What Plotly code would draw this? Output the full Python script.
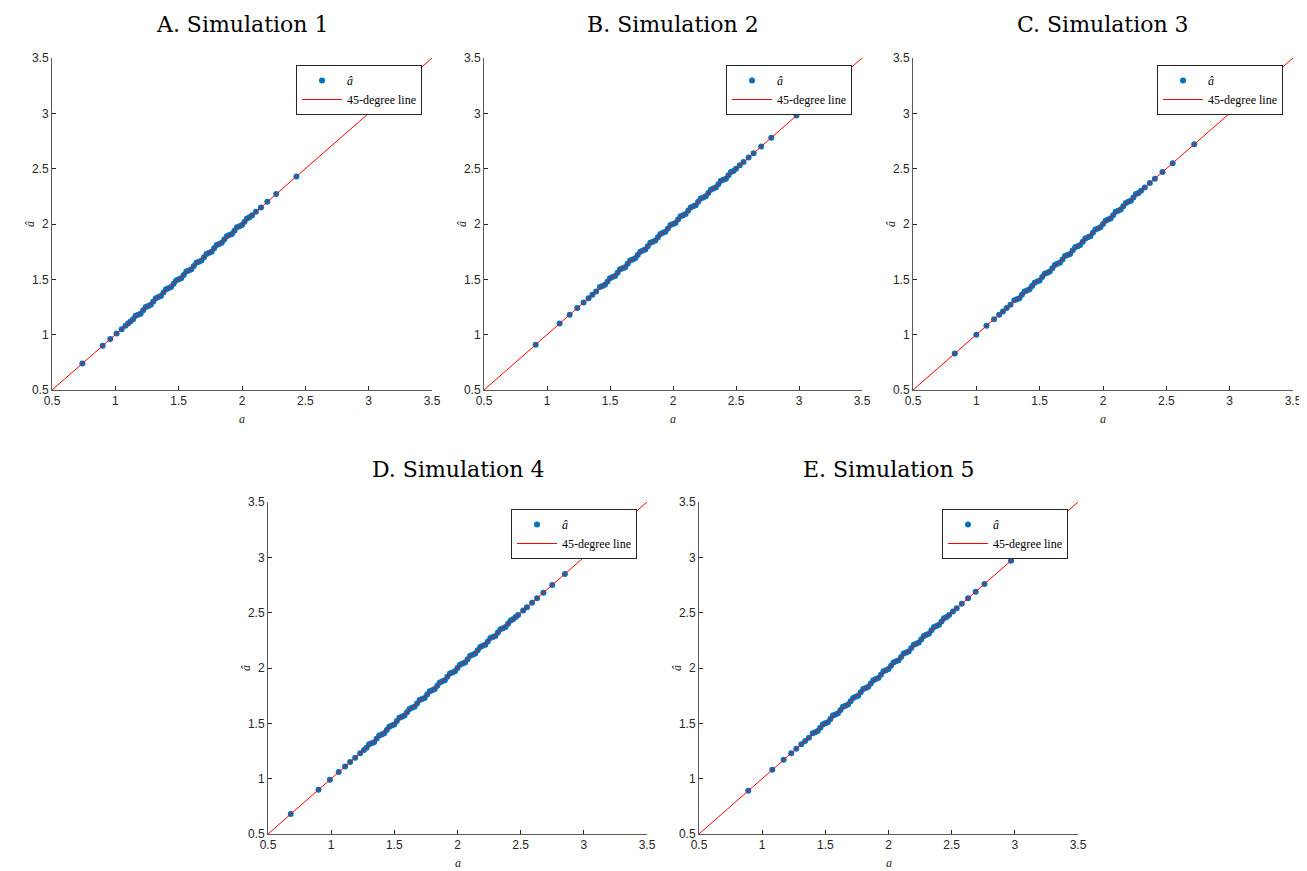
import plotly.graph_objects as go

# ---------------- data ----------------
titles = ["A. Simulation 1", "B. Simulation 2", "C. Simulation 3", "D. Simulation 4", "E. Simulation 5"]

a_1 = [0.74, 0.90, 0.96, 1.01, 1.05, 1.08, 1.10, 1.12, 1.14,
       1.16, 1.18, 1.20, 1.22, 1.24, 1.26, 1.28, 1.30, 1.32, 1.34, 1.36, 1.38, 1.40, 1.42, 1.44,
       1.46, 1.48, 1.50, 1.52, 1.54, 1.56, 1.58, 1.60, 1.62, 1.64, 1.66, 1.68, 1.70, 1.72, 1.74,
       1.76, 1.78, 1.80, 1.82, 1.84, 1.86, 1.88, 1.90, 1.92, 1.94, 1.96, 1.98, 2.00, 2.02, 2.04,
       2.06, 2.08, 2.11, 2.15, 2.20, 2.27, 2.43]
a_hat_1 = [0.74, 0.90, 0.96, 1.01, 1.05, 1.08, 1.10, 1.12, 1.14,
           1.17, 1.18, 1.19, 1.22, 1.25, 1.26, 1.27, 1.30, 1.33, 1.34, 1.35, 1.38, 1.41, 1.42, 1.43,
           1.46, 1.49, 1.50, 1.51, 1.54, 1.57, 1.58, 1.59, 1.62, 1.65, 1.66, 1.67, 1.70, 1.73, 1.74,
           1.75, 1.78, 1.81, 1.82, 1.83, 1.86, 1.89, 1.90, 1.91, 1.94, 1.97, 1.98, 1.99, 2.02, 2.05,
           2.06, 2.08, 2.11, 2.15, 2.20, 2.27, 2.43]

a_2 = [0.91, 1.10, 1.18, 1.24, 1.29, 1.33, 1.36, 1.39,
       1.42, 1.44, 1.46, 1.48, 1.50, 1.52, 1.54, 1.56, 1.58, 1.60, 1.62, 1.64, 1.66, 1.68, 1.70,
       1.72, 1.74, 1.76, 1.78, 1.80, 1.82, 1.84, 1.86, 1.88, 1.90, 1.92, 1.94, 1.96, 1.98, 2.00,
       2.02, 2.04, 2.06, 2.08, 2.10, 2.12, 2.14, 2.16, 2.18, 2.20, 2.22, 2.24, 2.26, 2.28, 2.30,
       2.32, 2.34, 2.36, 2.38, 2.40, 2.42, 2.44, 2.46,
       2.48, 2.50, 2.53, 2.56, 2.60, 2.64, 2.70, 2.78, 2.98]
a_hat_2 = [0.91, 1.10, 1.18, 1.24, 1.29, 1.33, 1.36, 1.39,
           1.43, 1.44, 1.45, 1.48, 1.51, 1.52, 1.53, 1.56, 1.59, 1.60, 1.61, 1.64, 1.67, 1.68, 1.69,
           1.72, 1.75, 1.76, 1.77, 1.80, 1.83, 1.84, 1.85, 1.88, 1.91, 1.92, 1.93, 1.96, 1.99, 2.00,
           2.01, 2.04, 2.07, 2.08, 2.09, 2.12, 2.15, 2.16, 2.17, 2.20, 2.23, 2.24, 2.25, 2.28, 2.31,
           2.32, 2.33, 2.36, 2.39, 2.40, 2.41, 2.44, 2.47,
           2.48, 2.50, 2.53, 2.56, 2.60, 2.64, 2.70, 2.78, 2.98]

a_3 = [0.83, 1.00, 1.08, 1.14, 1.18, 1.21, 1.24, 1.27,
       1.30, 1.32, 1.34, 1.36, 1.38, 1.40, 1.42, 1.44, 1.46, 1.48, 1.50, 1.52, 1.54, 1.56, 1.58,
       1.60, 1.62, 1.64, 1.66, 1.68, 1.70, 1.72, 1.74, 1.76, 1.78, 1.80, 1.82, 1.84, 1.86, 1.88,
       1.90, 1.92, 1.94, 1.96, 1.98, 2.00, 2.02, 2.04, 2.06, 2.08, 2.10, 2.12, 2.14, 2.16, 2.18,
       2.20, 2.22, 2.24, 2.26,
       2.28, 2.30, 2.33, 2.37, 2.41, 2.47, 2.55, 2.72]
a_hat_3 = [0.83, 1.00, 1.08, 1.14, 1.18, 1.21, 1.24, 1.27,
           1.31, 1.32, 1.33, 1.36, 1.39, 1.40, 1.41, 1.44, 1.47, 1.48, 1.49, 1.52, 1.55, 1.56, 1.57,
           1.60, 1.63, 1.64, 1.65, 1.68, 1.71, 1.72, 1.73, 1.76, 1.79, 1.80, 1.81, 1.84, 1.87, 1.88,
           1.89, 1.92, 1.95, 1.96, 1.97, 2.00, 2.03, 2.04, 2.05, 2.08, 2.11, 2.12, 2.13, 2.16, 2.19,
           2.20, 2.21, 2.24, 2.27,
           2.28, 2.30, 2.33, 2.37, 2.41, 2.47, 2.55, 2.72]

a_4 = [0.68, 0.90, 0.99, 1.06, 1.11, 1.15, 1.19, 1.23, 1.26, 1.28,
       1.30, 1.32, 1.34, 1.36, 1.38, 1.40, 1.42, 1.44, 1.46, 1.48, 1.50, 1.52, 1.54, 1.56, 1.58,
       1.60, 1.62, 1.64, 1.66, 1.68, 1.70, 1.72, 1.74, 1.76, 1.78, 1.80, 1.82, 1.84, 1.86, 1.88,
       1.90, 1.92, 1.94, 1.96, 1.98, 2.00, 2.02, 2.04, 2.06, 2.08, 2.10, 2.12, 2.14, 2.16, 2.18,
       2.20, 2.22, 2.24, 2.26, 2.28, 2.30, 2.32, 2.34, 2.36, 2.38, 2.40, 2.42, 2.44,
       2.46, 2.48, 2.52, 2.55, 2.59, 2.63, 2.68, 2.75, 2.85, 3.07]
a_hat_4 = [0.68, 0.90, 0.99, 1.06, 1.11, 1.15, 1.19, 1.23, 1.26, 1.28,
           1.31, 1.32, 1.33, 1.36, 1.39, 1.40, 1.41, 1.44, 1.47, 1.48, 1.49, 1.52, 1.55, 1.56, 1.57,
           1.60, 1.63, 1.64, 1.65, 1.68, 1.71, 1.72, 1.73, 1.76, 1.79, 1.80, 1.81, 1.84, 1.87, 1.88,
           1.89, 1.92, 1.95, 1.96, 1.97, 2.00, 2.03, 2.04, 2.05, 2.08, 2.11, 2.12, 2.13, 2.16, 2.19,
           2.20, 2.21, 2.24, 2.27, 2.28, 2.29, 2.32, 2.35, 2.36, 2.37, 2.40, 2.43, 2.44,
           2.46, 2.48, 2.52, 2.55, 2.59, 2.63, 2.68, 2.75, 2.85, 3.07]

a_5 = [0.89, 1.08, 1.17, 1.23, 1.27, 1.31, 1.34, 1.37,
       1.40, 1.42, 1.44, 1.46, 1.48, 1.50, 1.52, 1.54, 1.56, 1.58, 1.60, 1.62, 1.64, 1.66, 1.68,
       1.70, 1.72, 1.74, 1.76, 1.78, 1.80, 1.82, 1.84, 1.86, 1.88, 1.90, 1.92, 1.94, 1.96, 1.98,
       2.00, 2.02, 2.04, 2.06, 2.08, 2.10, 2.12, 2.14, 2.16, 2.18, 2.20, 2.22, 2.24, 2.26, 2.28,
       2.30, 2.32, 2.34, 2.36, 2.38, 2.40, 2.42, 2.44,
       2.46, 2.48, 2.51, 2.54, 2.58, 2.63, 2.69, 2.76, 2.97]
a_hat_5 = [0.89, 1.08, 1.17, 1.23, 1.27, 1.31, 1.34, 1.37,
           1.41, 1.42, 1.43, 1.46, 1.49, 1.50, 1.51, 1.54, 1.57, 1.58, 1.59, 1.62, 1.65, 1.66, 1.67,
           1.70, 1.73, 1.74, 1.75, 1.78, 1.81, 1.82, 1.83, 1.86, 1.89, 1.90, 1.91, 1.94, 1.97, 1.98,
           1.99, 2.02, 2.05, 2.06, 2.07, 2.10, 2.13, 2.14, 2.15, 2.18, 2.21, 2.22, 2.23, 2.26, 2.29,
           2.30, 2.31, 2.34, 2.37, 2.38, 2.39, 2.42, 2.45,
           2.46, 2.48, 2.51, 2.54, 2.58, 2.63, 2.69, 2.76, 2.97]

line_45 = [0.5, 3.5]
tick_vals = [0.5, 1, 1.5, 2, 2.5, 3, 3.5]
tick_text = ["0.5", "1", "1.5", "2", "2.5", "3", "3.5"]

series_a = [a_1, a_2, a_3, a_4, a_5]
series_a_hat = [a_hat_1, a_hat_2, a_hat_3, a_hat_4, a_hat_5]

# ---------------- layout (pixel boxes, in screen pixels) ----------------
OFF = 8                       # default page body margin
W, H = 1307 - OFF, 871 - OFF
boxes = [  # x0, x1, ytop, ybottom in screen pixels
    (52, 432, 58, 390),
    (484, 862, 58, 390),
    (913, 1293, 58, 390),
    (268, 647, 502, 834),
    (699, 1078, 502, 834),
]


def px(v):
    return (v - OFF) / W


def py(v):
    return 1 - (v - OFF) / H


BLUE = "#0072BD"
RED = "#FF0000"
AXC = "#262626"
SERIF = "Liberation Serif, DejaVu Serif, serif"
TITLE_FONT = "DejaVu Serif, serif"
SANS = "Liberation Sans, Arial, sans-serif"

fig = go.Figure()
annotations = []
layout_axes = {}

for i, (x0, x1, yt, yb) in enumerate(boxes):
    n = i + 1
    xa = "x" if n == 1 else f"x{n}"
    ya = "y" if n == 1 else f"y{n}"
    lg = "legend" if n == 1 else f"legend{n}"

    fig.add_trace(go.Scatter(
        x=series_a[i], y=series_a_hat[i], mode="markers",
        marker=dict(color=BLUE, size=6, line=dict(width=0)),
        name="<i>â</i>", xaxis=xa, yaxis=ya, legend=lg, showlegend=True, cliponaxis=False))
    fig.add_trace(go.Scatter(
        x=line_45, y=line_45, mode="lines",
        line=dict(color=RED, width=1),
        name="45-degree line", xaxis=xa, yaxis=ya, legend=lg, showlegend=True))

    common = dict(range=[0.5, 3.5], tickvals=tick_vals, ticktext=tick_text,
                  ticks="inside", ticklen=4, tickcolor=AXC, showgrid=False, zeroline=False,
                  showline=True, linecolor="#5a5a5a", linewidth=1, mirror=False,
                  automargin=False, ticklabeloverflow="allow",
                  tickfont=dict(family=SANS, size=12, color=AXC), fixedrange=True)
    xkey = "xaxis" if n == 1 else f"xaxis{n}"
    ykey = "yaxis" if n == 1 else f"yaxis{n}"
    layout_axes[xkey] = dict(domain=[px(x0), px(x1)], anchor=ya, **common)
    layout_axes[ykey] = dict(domain=[py(yb), py(yt)], anchor=xa, **common)

    # legend box
    layout_axes[lg] = dict(
        x=px(x1 - 10), y=py(yt + 7), xanchor="right", yanchor="top",
        bgcolor="white", bordercolor=AXC, borderwidth=1,
        font=dict(family=SERIF, size=12, color="#000000"),
        itemwidth=40, tracegroupgap=0)

    # title
    annotations.append(dict(text=titles[i], x=px((x0 + x1) / 2), y=py(yt - 33),
                            xref="paper", yref="paper", showarrow=False,
                            xanchor="center", yanchor="middle",
                            font=dict(family=TITLE_FONT, size=22, color="#000000")))
    # x axis label
    annotations.append(dict(text="<i>a</i>", x=px((x0 + x1) / 2), y=py(yb + 29),
                            xref="paper", yref="paper", showarrow=False,
                            xanchor="center", yanchor="middle",
                            font=dict(family=SERIF, size=12, color=AXC)))
    # y axis label
    annotations.append(dict(text="<i>â</i>", x=px(x0 - 22), y=py((yt + yb) / 2),
                            xref="paper", yref="paper", showarrow=False, textangle=-90,
                            xanchor="center", yanchor="middle",
                            font=dict(family=SERIF, size=12, color=AXC)))

fig.update_layout(
    width=W, height=H, margin=dict(l=0, r=0, t=0, b=0),
    paper_bgcolor="white", plot_bgcolor="white",
    annotations=annotations, **layout_axes)

fig.write_html("out.html")
